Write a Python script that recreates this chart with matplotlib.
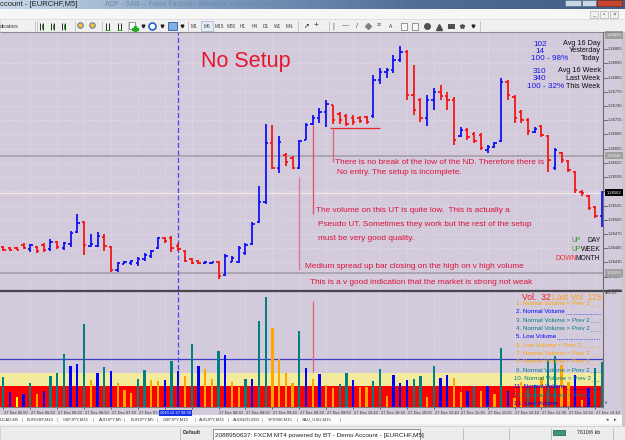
import numpy as np
import matplotlib
matplotlib.use("Agg")
import matplotlib.pyplot as plt
from matplotlib.patches import Rectangle

plt.rcParams['font.family'] = ['Liberation Sans', 'DejaVu Sans']

# ---- data (EURCHF M5, 27 Dec 2010, bars from 05:50) ----
opens = [1.26447, 1.26446, 1.26446, 1.26452, 1.26444, 1.26448, 1.26452, 1.26444, 1.26458, 1.26446,
         1.26454, 1.26479, 1.26501, 1.26450, 1.26450, 1.26469, 1.26448, 1.26399, 1.26412, 1.26414,
         1.26414, 1.26422, 1.26429, 1.26446, 1.26467, 1.26467, 1.26450, 1.26439, 1.26422, 1.26418,
         1.26413, 1.26413, 1.26416, 1.26389, 1.26416, 1.26416, 1.26435, 1.26454, 1.26501, 1.26543,
         1.26667, 1.26614, 1.26642, 1.26636, 1.26614, 1.26674, 1.26707, 1.26720, 1.26733, 1.26747,
         1.26728, 1.26724, 1.26720, 1.26720, 1.26722, 1.26724, 1.26800, 1.26817, 1.26821, 1.26842,
         1.26859, 1.26769, 1.26758, 1.26720, 1.26758, 1.26775, 1.26766, 1.26758, 1.26682, 1.26695,
         1.26686, 1.26684, 1.26652, 1.26659, 1.26671, 1.26796, 1.26764, 1.26733, 1.26716, 1.26690,
         1.26703, 1.26682, 1.26614, 1.26646, 1.26629, 1.26606, 1.26564, 1.26555, 1.26532, 1.26513]
highs = [1.26449, 1.26448, 1.26447, 1.26456, 1.26453, 1.26449, 1.26456, 1.26465, 1.26461, 1.26459,
         1.26482, 1.26517, 1.26502, 1.26475, 1.26479, 1.26475, 1.26449, 1.26417, 1.26418, 1.26420,
         1.26426, 1.26436, 1.26441, 1.26469, 1.26469, 1.26470, 1.26457, 1.26441, 1.26425, 1.26420,
         1.26418, 1.26417, 1.26418, 1.26433, 1.26429, 1.26450, 1.26457, 1.26500, 1.26576, 1.26707,
         1.26705, 1.26682, 1.26646, 1.26639, 1.26674, 1.26710, 1.26726, 1.26741, 1.26758, 1.26747,
         1.26733, 1.26728, 1.26726, 1.26724, 1.26724, 1.26811, 1.26825, 1.26825, 1.26853, 1.26872,
         1.26864, 1.26832, 1.26762, 1.26769, 1.26783, 1.26790, 1.26775, 1.26764, 1.26701, 1.26699,
         1.26690, 1.26688, 1.26663, 1.26669, 1.26804, 1.26800, 1.26769, 1.26737, 1.26720, 1.26701,
         1.26705, 1.26684, 1.26657, 1.26648, 1.26631, 1.26608, 1.26568, 1.26558, 1.26534, 1.26565]
lows = [1.26440, 1.26439, 1.26441, 1.26443, 1.26437, 1.26436, 1.26437, 1.26439, 1.26444, 1.26441,
        1.26448, 1.26477, 1.26431, 1.26448, 1.26448, 1.26439, 1.26396, 1.26396, 1.26411, 1.26410,
        1.26408, 1.26419, 1.26424, 1.26444, 1.26456, 1.26437, 1.26440, 1.26415, 1.26412, 1.26412,
        1.26412, 1.26411, 1.26380, 1.26386, 1.26415, 1.26414, 1.26431, 1.26452, 1.26498, 1.26539,
        1.26612, 1.26604, 1.26618, 1.26612, 1.26612, 1.26674, 1.26705, 1.26710, 1.26701, 1.26707,
        1.26707, 1.26703, 1.26705, 1.26710, 1.26707, 1.26720, 1.26792, 1.26804, 1.26815, 1.26838,
        1.26758, 1.26726, 1.26712, 1.26703, 1.26737, 1.26758, 1.26737, 1.26663, 1.26680, 1.26674,
        1.26667, 1.26652, 1.26646, 1.26657, 1.26669, 1.26758, 1.26710, 1.26710, 1.26684, 1.26688,
        1.26680, 1.26606, 1.26610, 1.26625, 1.26606, 1.26562, 1.26555, 1.26526, 1.26509, 1.26490]
closes = [1.26441, 1.26441, 1.26442, 1.26446, 1.26452, 1.26439, 1.26441, 1.26458, 1.26448, 1.26456,
          1.26477, 1.26498, 1.26452, 1.26454, 1.26471, 1.26450, 1.26399, 1.26414, 1.26416, 1.26418,
          1.26422, 1.26431, 1.26439, 1.26467, 1.26460, 1.26446, 1.26444, 1.26418, 1.26414, 1.26414,
          1.26416, 1.26416, 1.26387, 1.26429, 1.26425, 1.26446, 1.26452, 1.26496, 1.26543, 1.26667,
          1.26614, 1.26669, 1.26627, 1.26614, 1.26671, 1.26705, 1.26720, 1.26733, 1.26750, 1.26716,
          1.26716, 1.26707, 1.26712, 1.26714, 1.26712, 1.26800, 1.26817, 1.26821, 1.26842, 1.26859,
          1.26769, 1.26737, 1.26720, 1.26758, 1.26775, 1.26766, 1.26758, 1.26674, 1.26695, 1.26680,
          1.26671, 1.26657, 1.26659, 1.26667, 1.26796, 1.26769, 1.26720, 1.26716, 1.26693, 1.26697,
          1.26684, 1.26631, 1.26652, 1.26631, 1.26610, 1.26568, 1.26562, 1.26530, 1.26513, 1.26562]

volumes = [126, 63, 41, 55, 103, 54, 69, 131, 145, 223,
           173, 182, 351, 114, 145, 169, 152, 100, 72, 58,
           118, 155, 116, 110, 116, 195, 152, 131, 266, 173,
           159, 118, 238, 219, 106, 83, 118, 118, 364, 465,
           335, 202, 144, 102, 321, 164, 118, 140, 92, 80,
           97, 142, 114, 86, 83, 109, 161, 47, 135, 102,
           114, 118, 132, 41, 173, 124, 135, 121, 63, 69,
           89, 68, 89, 55, 251, 68, 37, 107, 79, 93,
           128, 203, 217, 178, 107, 135, 30, 79, 166, 189]
vol_class = "TBYBTOBTTTBBTOBTBOOOTTOOBTBOTBOOTBOOTBTTOOOOTBOBOOTTBOOTTOBBBTTOTBBOOBTOBOTBOOTTOTTOOBOBTT"
vol_palette = {'T': '#008080', 'B': '#0000FF', 'O': '#FFA500', 'Y': '#FFFF00'}
vol_max = 486.25
red_zone, yellow_zone, blue_level = 89, 144, 203

time_labels = ["27 Dec 05:50", "27 Dec 06:10", "27 Dec 06:30", "27 Dec 06:50", "27 Dec 07:10",
               "27 Dec 07:30", "27 Dec 07:50", "27 Dec 08:10", "27 Dec 08:30", "27 Dec 08:50",
               "27 Dec 09:10", "27 Dec 09:30", "27 Dec 09:50", "27 Dec 10:10", "27 Dec 10:30",
               "27 Dec 10:50", "27 Dec 11:10", "27 Dec 11:30", "27 Dec 11:50", "27 Dec 12:10",
               "27 Dec 12:30", "27 Dec 12:50", "27 Dec 13:10"]
price_ticks = [1.26865, 1.26835, 1.26805, 1.26775, 1.26745, 1.26715, 1.26685, 1.26655, 1.26625,
               1.26595, 1.26565, 1.26535, 1.26505, 1.26475, 1.26445, 1.26415, 1.26385, 1.26355]
hlines_gray = [1.26640, 1.26393]
top_box = 1.26895
bid = 1.26562
marker_bar = 26

W, H = 625, 440
BG = '#D3CADB'
fig = plt.figure(figsize=(W / 100, H / 100), dpi=100)

# ---- window chrome (pixel coords) ----
bg = fig.add_axes([0, 0, 1, 1], zorder=0)
bg.set_xlim(0, W)
bg.set_ylim(H, 0)
bg.axis('off')


def box(x0, y0, x1, y1, fc, ec='none', lw=0.6, ax=bg, z=1):
    ax.add_patch(Rectangle((x0, y0), x1 - x0, y1 - y0, facecolor=fc, edgecolor=ec, linewidth=lw, zorder=z))


box(0, 0, W, H, '#F0F0F0')
grad = np.linspace(0, 1, 200).reshape(1, -1)
bg.imshow(grad, extent=(0, W, 9, 0), cmap=matplotlib.colors.LinearSegmentedColormap.from_list(
    'tb', ['#C8D8E8', '#7F9CBF', '#4F6F96', '#3E5E86']), aspect='auto', zorder=2)
bg.text(0, 5, "ccount - [EURCHF,M5]", fontsize=5.5, color='#202020', va='center', zorder=3)
bg.text(105, 4, "ADF - SAB -- Forex Factory - Windows Internet Explorer", fontsize=5,
        color='#6E88A8', va='center', zorder=3)
box(565, 0, 581, 6, '#C9D6E4', '#5A708C', 0.5, z=3)
box(582, 0, 596, 6, '#C9D6E4', '#5A708C', 0.5, z=3)
box(597, 0, 622, 6, '#C8452F', '#7A2A20', 0.5, z=3)

box(0, 9, W, 19, '#F6F6F6', z=2)
for x0, s in ((590, '_'), (600, '▫'), (610, '×')):
    box(x0, 11, x0 + 8, 18, '#F2F2F2', '#B0B0B0', 0.5, z=3)
    bg.text(x0 + 4, 14.5, s, fontsize=4.5, ha='center', va='center', color='#404040', zorder=4)

box(0, 19, W, 32, '#F0F0F0', '#D8D8D8', 0.5, z=2)
bg.text(0, 26, "dicators", fontsize=3.8, va='center', color='#303030', zorder=3)
for xs in (35, 37, 75, 102, 128, 188, 298, 329, 480):
    bg.vlines(xs, 21, 31, color='#C0C0C0', lw=0.6, zorder=3)
for x0 in (40, 51, 62):
    bg.vlines([x0, x0 + 3], 23, 30, color='#303030', lw=0.7, zorder=3)
    bg.vlines([x0 + 1.5], 24.5, 29, color='#20A020', lw=0.7, zorder=3)
for x0 in (80, 92):
    bg.plot(x0, 25, 'o', ms=4, mfc='#F2C230', mec='#3766B8', mew=0.6, zorder=3)
for x0 in (106, 118):
    bg.vlines([x0, x0 + 3], 23, 30, color='#2A2A2A', lw=0.7, zorder=3)
    bg.hlines(30, x0 - 1, x0 + 4, color='#20A020', lw=0.6, zorder=3)
box(129, 22, 135, 29, '#FFFFFF', '#707070', 0.5, z=3)
bg.plot(135, 29, 'P', ms=4, color='#22AA22', zorder=4)
bg.plot(152, 26, 'o', ms=5, mfc='white', mec='#2560C8', mew=1.2, zorder=3)
box(168, 22, 177, 30, '#7FB0E0', '#2A5CA8', 0.6, z=3)
for x0 in (143, 162, 182, 473):
    bg.plot(x0, 26.5, 'v', ms=2, color='#202020', zorder=3)
mbtn = ["M1", "M5", "M15", "M30", "H1", "H4", "D1", "W1", "MN"]
mx = [194, 207, 219, 231, 243, 255, 266, 278, 289]
box(201, 21, 213, 31, '#E4ECF4', '#9EB2CC', 0.5, z=3)
for s, x0 in zip(mbtn, mx):
    bg.text(x0, 26, s, fontsize=3.4, ha='center', va='center', color='#404040', zorder=4)
bg.text(306, 26, "➚", fontsize=5, ha='center', va='center', color='#101010', zorder=3)
bg.text(316, 26, "+", fontsize=6, ha='center', va='center', color='#303030', zorder=3)
bg.text(333, 26, "|", fontsize=5, ha='center', va='center', color='#505050', zorder=3)
bg.text(345, 26, "—", fontsize=5, ha='center', va='center', color='#505050', zorder=3)
bg.text(357, 26, "/", fontsize=5, ha='center', va='center', color='#505050', zorder=3)
bg.plot(368, 26, 'D', ms=3, color='#808080', zorder=3)
bg.text(379, 26, "≡", fontsize=5, ha='center', va='center', color='#606060', zorder=3)
bg.text(391, 26.5, "A", fontsize=3.5, ha='center', va='center', color='#303030', zorder=3)
box(401, 23, 407, 30, '#F8F8F8', '#707070', 0.5, z=3)
box(412, 23, 418, 30, '#F8F8F8', '#707070', 0.5, z=3)
bg.plot(427, 26.5, 'o', ms=4, color='#505050', zorder=3)
bg.plot(439, 27, '^', ms=4, color='#505050', zorder=3)
box(448, 24, 455, 29, '#505050', z=3)
bg.plot(462, 26.5, '*', ms=3.5, color='#505050', zorder=3)

# chart backdrop
box(0, 32, 622, 415, BG, z=2)
box(622, 32, W, 426, '#C8C8C8', z=2)
box(0, 415, 622, 424, '#FAFAFA', z=2)
tabs = [("DCAD,M5", 0), ("EURGBP,M15", 27), ("GBPJPY,M15", 63), ("AUDJPY,M5", 99),
        ("EURJPY,M5", 131), ("GBPJPY,M15", 163), ("AUDJPY,M15", 199), ("AUDNZD,M15", 233),
        ("SPX500,M15", 268), ("XAU_USD,M15", 302)]
for s, x0 in tabs:
    bg.text(x0, 419.5, s, fontsize=3.1, va='center', color='#404040', zorder=3)
for xs in (22, 57, 93, 124, 157, 195, 228, 262, 297, 340):
    bg.text(xs, 419.5, "|", fontsize=3.1, va='center', ha='center', color='#707070', zorder=3)
bg.text(607, 419.5, "◂", fontsize=3.5, va='center', ha='center', color='#404040', zorder=3)
bg.text(615, 419.5, "▸", fontsize=3.5, va='center', ha='center', color='#404040', zorder=3)
box(0, 426, W, H, '#ECECEC', '#C8C8C8', 0.5, z=2)
for xs in (180, 373, 420, 463, 509, 551, 613):
    bg.vlines(xs, 428, 440, color='#B8B8B8', lw=0.6, zorder=3)
bg.text(183, 432, "Default", fontsize=3.8, fontweight='bold', va='center', color='#303030', zorder=3)
box(553, 430, 565, 435, '#3C9A6A', '#205070', 0.5, z=3)
bg.text(600, 432.5, "7610/6 kb", fontsize=3.8, ha='right', va='center', color='#202020', zorder=3)
box(213, 429, 420, 441, '#FFFFFF', '#808080', 0.6, z=4)
bg.text(215, 435, "2088950637: FXCM MT4 powered by BT - Demo Account - [EURCHF,M5]",
        fontsize=4.6, va='center', color='#202020', zorder=5)

# ---- price panel ----
idx = np.arange(len(closes))
x_lo, x_hi = -0.495, 89.15
ax = fig.add_axes([0, 1 - 290 / H, 603 / W, (290 - 32) / H], zorder=2)
ax.set_facecolor('none')
ax.set_xlim(x_lo, x_hi)
ax.set_ylim(1.26357, 1.26901)
for s in ax.spines.values():
    s.set_visible(False)
ax.set_xticks([])
ax.set_yticks([])
ytr = ax.get_yaxis_transform()
boxed = [top_box, bid] + hlines_gray
for p in price_ticks:
    ax.plot([1.0, 1.006], [p, p], transform=ytr, color='#404040', lw=0.5, clip_on=False)
    if min(abs(p - q) for q in boxed) > 0.00008:
        ax.text(1.008, p, f"{p:.5f}", transform=ytr, fontsize=3.0, va='center', ha='left',
                color='#303030', clip_on=False)
    if p > 1.26360:
        ax.axhline(p, color='#EDE8F0', lw=0.5, ls=(0, (1, 2)), zorder=0)
for b in range(4, 90, 4):
    ax.axvline(b, color='#EDE8F0', lw=0.5, ls=(0, (1, 2)), zorder=0)
for p in hlines_gray:
    ax.axhline(p, color='#A8A4AC', lw=1.3, zorder=1)
ax.axhline(bid, color='#F2E6E6', lw=1.0, zorder=1)
ax.axvline(marker_bar, color='#4848F0', lw=0.9, ls=(0, (4, 2)), zorder=1)

bar_col = ['#0A0AF5' if c >= o else '#F51010' for o, c in zip(opens, closes)]
ax.vlines(idx, lows, highs, colors=bar_col, lw=1.25, zorder=3)
ax.hlines(opens, idx - 0.35, idx, colors=bar_col, lw=1.25, zorder=3)
ax.hlines(closes, idx, idx + 0.35, colors=bar_col, lw=1.25, zorder=3)

# annotation lines
ax.hlines(1.26699, 48.6, 56.0, color='#E82830', lw=0.9, zorder=4)
ax.vlines(49, 1.26627, 1.26699, color='#E06070', lw=0.9, zorder=4)
ax.vlines(46, 1.26517, 1.26705, color='#E05060', lw=0.9, zorder=4)
ax.vlines(44, 1.26399, 1.26596, color='#E07888', lw=0.9, zorder=4)

# axis price boxes
for p, fc, tc in ((top_box, '#A0A0A0', '#F0F0F0'), (hlines_gray[0], '#A0A0A0', '#F0F0F0'),
                  (hlines_gray[1], '#A0A0A0', '#F0F0F0'), (bid, '#000000', '#FFFFFF')):
    ax.text(1.006, p, f"{p:.5f}", transform=ytr, fontsize=3.0, va='center', ha='left', color=tc,
            bbox=dict(boxstyle='square,pad=0.4', fc=fc, ec='none'), zorder=6, clip_on=False)

# ---- volume panel ----
axv = fig.add_axes([0, 1 - 407 / H, 603 / W, (407 - 292) / H], zorder=2)
axv.set_facecolor('none')
axv.set_xlim(x_lo, x_hi)
axv.set_ylim(0, vol_max)
for s in axv.spines.values():
    s.set_visible(False)
axv.axhspan(0, red_zone, color='#FF0000', lw=0, zorder=0)
axv.axhspan(red_zone, yellow_zone, color='#F4EA9C', lw=0, zorder=0)
axv.axhline(blue_level, color='#3C3CC8', lw=0.9, zorder=1)
for b in range(4, 90, 4):
    axv.axvline(b, color='#EDE8F0', lw=0.5, ls=(0, (1, 2)), zorder=0.5)
axv.axvline(marker_bar, color='#4848F0', lw=0.9, ls=(0, (4, 2)), zorder=1)
axv.bar(idx, volumes, width=0.34, color=[vol_palette[c] for c in vol_class], zorder=2)
axv.vlines(46, 148, 448, color='#E06070', lw=0.9, zorder=3)
axv.set_yticks([])
axv.set_xticks(list(range(0, 90, 4)))
axv.set_xticklabels([])
axv.tick_params(axis='x', length=1.5, width=0.5, colors='#303030')
for k, lab in enumerate(time_labels):
    b = 4 * k
    if b in (24, 28):
        continue
    axv.text(b + 0.1, -0.035, lab, transform=axv.get_xaxis_transform(), fontsize=2.9,
             ha='left', va='top', color='#303030', clip_on=False)
axv.text(marker_bar - 2.7, -0.035, "2010.12.27 08:00", transform=axv.get_xaxis_transform(),
         fontsize=2.9, ha='left', va='top', color='#FFFFFF', clip_on=False,
         bbox=dict(boxstyle='square,pad=0.35', fc='#1432E6', ec='none'))

# ---- overlay texts and frame lines ----
ov = fig.add_axes([0, 0, 1, 1], zorder=5)
ov.set_facecolor('none')
ov.set_xlim(0, W)
ov.set_ylim(H, 0)
ov.axis('off')
ov.hlines(32.5, 0, 622, color='#8C8890', lw=0.8)
ov.hlines(291, 0, 622, color='#48464C', lw=1.6)
ov.hlines(407.5, 0, 603, color='#707070', lw=0.6)
ov.vlines(603, 32, 408, color='#6E6C72', lw=0.8)
ov.text(605, 293.5, "486.25", fontsize=3.0, va='center', color='#303030')
ov.text(605, 402.5, "0", fontsize=3.0, va='center', color='#303030')

ov.text(246, 62, "No Setup", fontsize=15.5, color='#E8152E', ha='center', va='center')

crim = '#DC143C'
notes = [("There is no break of the low of the ND. Therefore there is", 335, 162),
         ("No entry. The setup is incomplete.", 337, 173),
         ("The volume on this UT is quite low.  This is actually a", 316, 210),
         ("Pseudo UT. Sometimes they work but the rest of the setup", 318, 224),
         ("must be very good quality.", 318, 238),
         ("Medium spread up bar closing on the high on v high volume", 305, 266),
         ("This is a v good indication that the market is strong not weak", 310, 282)]
for s, x0, y0 in notes:
    ov.text(x0, y0, s, fontsize=5.95, color=crim, va='center', ha='left')

stats_num = [("102", 533, 44), ("14", 535, 51.5), ("100 - 98%", 531, 59),
             ("310", 533, 71.5), ("340", 533, 79), ("100 - 32%", 527, 86.7)]
stats_lab = [("Avg 16 Day", 43.5), ("Yesterday", 51), ("Today", 59),
             ("Avg 16 Week", 71), ("Last Week", 78.7), ("This Week", 86.3)]
for s, x0, y0 in stats_num:
    ov.text(x0, y0, s, fontsize=5.9, color='#1515E8', va='center', ha='left')
for s, y0 in stats_lab:
    ov.text(600.5, y0, s, fontsize=5.2, color='#101010', va='center', ha='right')

trend = [("UP", '#3A9A3A', "DAY", 241, 581), ("UP", '#3A9A3A', "WEEK", 249.7, 581),
         ("DOWN", '#F03030', "MONTH", 258.3, 577)]
for a, ca, b, y0, xa in trend:
    ov.text(600.5, y0, b, fontsize=4.9, color='#101010', va='center', ha='right')
    ov.text(xa, y0, a, fontsize=4.9, color=ca, va='center', ha='right')

ov.text(522, 297.5, "Vol.  32", fontsize=6.2, color='#F01818', va='center', ha='left')
ov.text(552, 297.5, "Last Vol  125", fontsize=6.2, color='#FFA020', va='center', ha='left')
legend_lines = [("1. Normal Volume < Prev 2", '#FFA500'),
                ("2. Normal Volume", '#0000FF'),
                ("3. Normal Volume > Prev 2", '#008080'),
                ("4. Normal Volume > Prev 2", '#008080'),
                ("5. Low Volume", '#0000FF'),
                ("6. Low Volume < Prev 2", '#FFA500'),
                ("7. Normal Volume < Prev 2", '#FFA500'),
                ("8. Normal Volume < Prev 2", '#FFA500'),
                ("9. Normal Volume > Prev 2", '#008080'),
                ("10. Normal Volume > Prev 2", '#008080'),
                ("11. Normal Volume", '#0000FF'),
                ("12. Normal Volume > Prev 2", '#008080'),
                ("13. Low Volume", '#0000FF')]
legend_texts = []
for k, (s, c) in enumerate(legend_lines):
    t = ov.text(516 if k < 9 else 514, 303.5 + 8.33 * k, s, fontsize=4.4, color=c,
                va='center', ha='left')
    legend_texts.append((t, c, 303.5 + 8.33 * k))

# dotted leaders from each legend entry to the right edge
fig.canvas.draw()
inv = ov.transData.inverted()
for t, c, y0 in legend_texts:
    x_end = inv.transform(t.get_window_extent().p1)[0]
    ov.hlines(y0 + 2.2, x_end + 1, 600, color=c, lw=0.6, ls=(0, (0.6, 1.4)))

fig.savefig("out.png", dpi=100)
